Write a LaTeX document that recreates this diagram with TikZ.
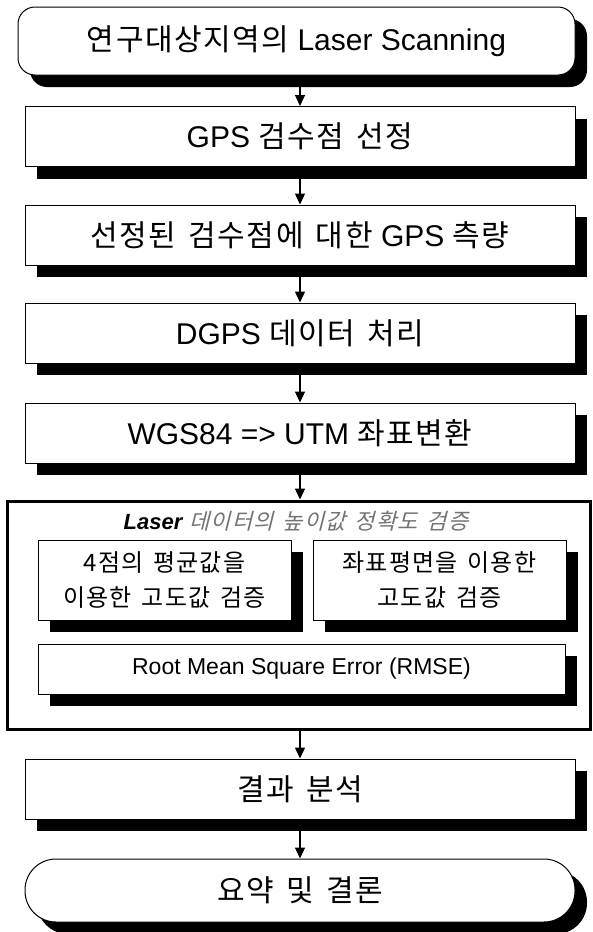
\documentclass[tikz,border=0pt]{standalone}
\usepackage{fontspec}
\setmainfont{Liberation Sans}
\newfontfamily\kr[LetterSpace=5,WordSpace=1.5]{Noto Sans CJK KR}
\newfontfamily\krsl[FakeSlant=0.25,LetterSpace=5,WordSpace=1.5]{Noto Sans CJK KR}
\usetikzlibrary{arrows.meta,shadows}
\tikzset{
  shad/.style={drop shadow={shadow xshift=12pt, shadow yshift=-12pt, fill=black, opacity=1}},
  mainbox/.style={draw, line width=1pt, fill=white, shad, minimum width=550pt, minimum height=60pt,
    inner sep=0pt, font=\fontsize{30}{34}\selectfont},
  termbox/.style={mainbox, rounded corners=17pt},
  endbox/.style={mainbox, rounded corners=31pt, minimum height=63pt},
  subbox/.style={draw, line width=1pt, fill=white, shad, minimum width=253pt, minimum height=80pt,
    inner sep=0pt, align=center, font=\fontsize{24}{35}\selectfont},
  rmsebox/.style={subbox, minimum width=527pt, minimum height=50pt, font=\fontsize{23}{27}\selectfont},
  group/.style={draw, line width=3pt, minimum width=583pt, minimum height=228pt, inner sep=0pt},
  arr/.style={line width=1.3pt, -{Triangle[length=11pt,width=10pt]}}
}
\begin{document}
\begin{tikzpicture}[x=1pt,y=-1pt]
\useasboundingbox[fill=white] (0,0) rectangle (592,932);

\node[termbox, minimum width=557pt, minimum height=68pt] (n1) at (296.5,41) {{\kr 연구대상지역의} Laser Scanning};
\node[mainbox] (n2) at (300,136.5) {GPS {\kr 검수점 선정}};
\node[mainbox] (n3) at (300,235) {{\kr 선정된 검수점에 대한} GPS {\kr 측량}};
\node[mainbox] (n4) at (300,333) {DGPS {\kr 데이터 처리}};
\node[mainbox] (n5) at (300,433) {WGS84 => UTM {\kr 좌표변환}};

\node[group] (g) at (298.5,615) {};
\node[font=\fontsize{22}{26}\selectfont] (gt) at (296,521)
  {\textbf{\textit{Laser}} {\krsl\color{black!55} 데이터의 높이값 정확도 검증}};
\node[subbox] (s1) at (164.5,580) {{\kr 4점의 평균값을}\\{\kr 이용한 고도값 검증}};
\node[subbox] (s2) at (439.5,580) {{\kr 좌표평면을 이용한}\\{\kr 고도값 검증}};
\node[rmsebox] (s3) at (301.5,669) {Root Mean Square Error (RMSE)};

\node[mainbox] (n6) at (300,789) {{\kr 결과 분석}};
\node[endbox] (n7) at (300,890.5) {{\kr 요약 및 결론}};

\draw[arr] (n1.south -| n2.north) -- (n2.north);
\draw[arr] (n2) -- (n3);
\draw[arr] (n3) -- (n4);
\draw[arr] (n4) -- (n5);
\draw[arr] (n5.south) -- (n5.south |- g.north);
\draw[arr] (n6.north |- g.south) -- (n6.north);
\draw[arr] (n6) -- (n7);
\end{tikzpicture}
\end{document}
